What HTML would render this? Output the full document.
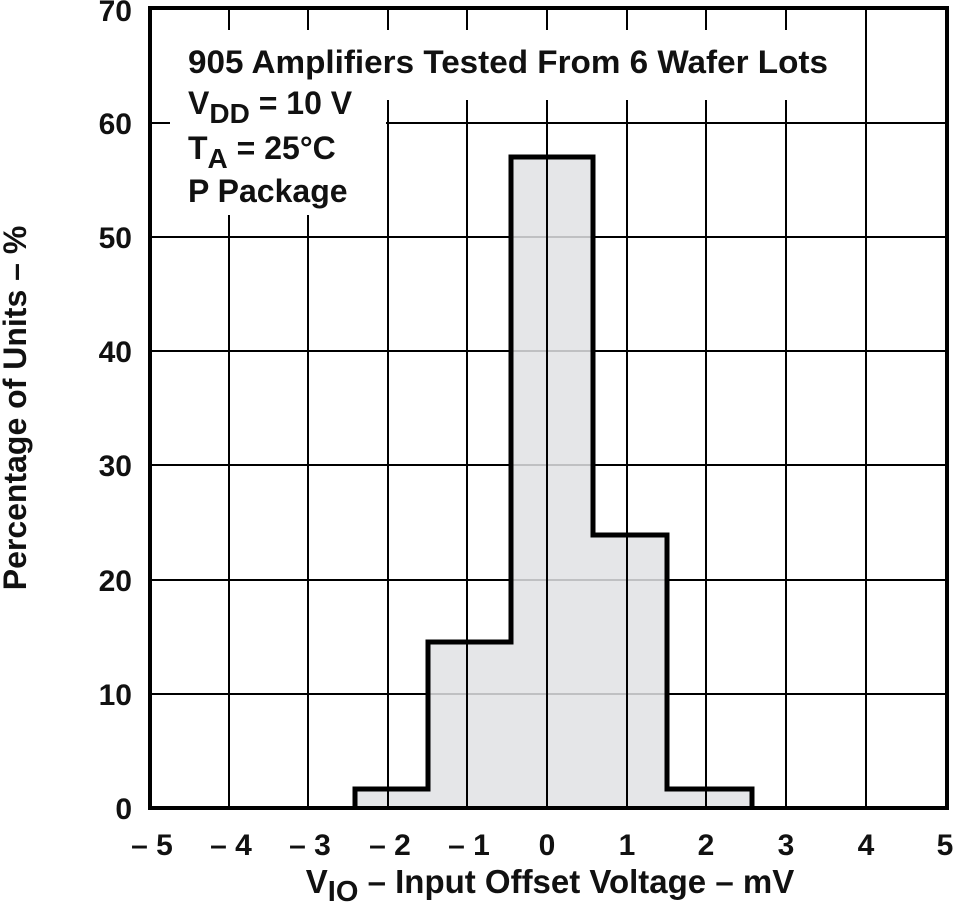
<!DOCTYPE html>
<html><head><style>
html,body{margin:0;padding:0;background:#fff;}
svg{display:block;font-family:"Liberation Sans",Arial,sans-serif;font-weight:bold;}
</style></head><body>
<svg width="957" height="904" viewBox="0 0 957 904">
<g stroke="#000" stroke-width="2" fill="none">
<line x1="229" y1="8" x2="229" y2="808"/><line x1="308" y1="8" x2="308" y2="808"/>
<line x1="388" y1="8" x2="388" y2="808"/><line x1="467" y1="8" x2="467" y2="808"/>
<line x1="547" y1="8" x2="547" y2="808"/><line x1="627" y1="8" x2="627" y2="808"/>
<line x1="706" y1="8" x2="706" y2="808"/><line x1="786" y1="8" x2="786" y2="808"/>
<line x1="866" y1="8" x2="866" y2="808"/>
<line x1="150" y1="123" x2="947" y2="123"/><line x1="150" y1="237" x2="947" y2="237"/>
<line x1="150" y1="351" x2="947" y2="351"/><line x1="150" y1="465" x2="947" y2="465"/>
<line x1="150" y1="580" x2="947" y2="580"/><line x1="150" y1="694" x2="947" y2="694"/>
</g>
<path d="M355 808 V789 H428 V642 H511 V157 H593 V535 H667 V789 H752 V808 Z" fill="#e1e2e4" fill-opacity="0.85"/>
<g stroke="#000" stroke-width="2">
<line x1="388" y1="789" x2="388" y2="808"/><line x1="467" y1="642" x2="467" y2="808"/>
<line x1="547" y1="157" x2="547" y2="808"/><line x1="627" y1="535" x2="627" y2="808"/>
<line x1="706" y1="789" x2="706" y2="808"/>
</g>
<path d="M355 808 V789 H428 V642 H511 V157 H593 V535 H667 V789 H752 V808" fill="none" stroke="#000" stroke-width="5"/>
<rect x="170" y="30" width="670" height="70" fill="#fff"/>
<rect x="170" y="30" width="216" height="185" fill="#fff"/>
<rect x="150" y="8" width="797" height="800" fill="none" stroke="#000" stroke-width="4"/>
<g font-size="32" fill="#111">
<text x="188" y="73" textLength="640" lengthAdjust="spacingAndGlyphs">905 Amplifiers Tested From 6 Wafer Lots</text>
<text x="188" y="114">V<tspan font-size="28" dy="9">DD</tspan><tspan dy="-9"> = 10 V</tspan></text>
<text x="188" y="159">T<tspan font-size="28" dy="9">A</tspan><tspan dy="-9"> = 25°C</tspan></text>
<text x="188" y="202">P Package</text>
</g>
<g font-size="30" fill="#111" text-anchor="end">
<text x="132" y="21">70</text><text x="132" y="134">60</text><text x="132" y="248">50</text>
<text x="132" y="362">40</text><text x="132" y="476">30</text><text x="132" y="591">20</text>
<text x="132" y="705">10</text><text x="132" y="819">0</text>
</g>
<g font-size="30" fill="#111" text-anchor="middle">
<text x="152" y="855">– 5</text><text x="231" y="855">– 4</text><text x="310" y="855">– 3</text>
<text x="390" y="855">– 2</text><text x="469" y="855">– 1</text><text x="547" y="855">0</text>
<text x="627" y="855">1</text><text x="706" y="855">2</text><text x="786" y="855">3</text>
<text x="866" y="855">4</text><text x="945" y="855">5</text>
</g>
<text x="550" y="893" font-size="33" fill="#111" text-anchor="middle">V<tspan font-size="29" dy="8">IO</tspan><tspan dy="-8"> – Input Offset Voltage – mV</tspan></text>
<text transform="translate(26,408) rotate(-90)" font-size="32" fill="#111" text-anchor="middle">Percentage of Units – %</text>
</svg>
</body></html>
